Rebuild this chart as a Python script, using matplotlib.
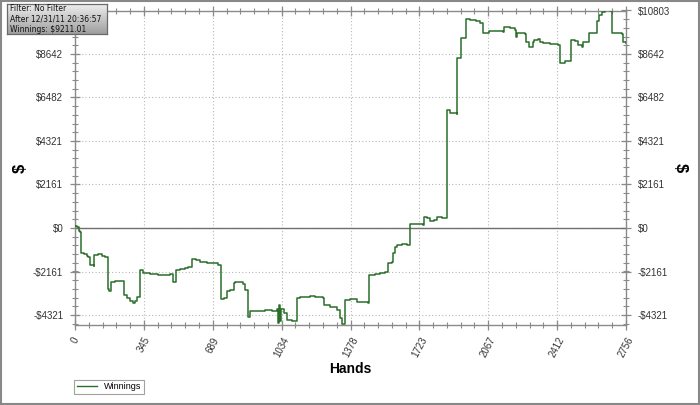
import numpy as np
import matplotlib
matplotlib.use("Agg")
import matplotlib.pyplot as plt
from matplotlib.ticker import FixedLocator, MultipleLocator
from matplotlib.patches import Rectangle
from matplotlib.lines import Line2D

# ---- data ----
hands = [0, 10, 18, 25, 30, 45, 58, 65, 75, 93, 95, 115, 135, 150, 164, 170, 180, 200, 220, 242,
         245, 260, 275, 292, 300, 309, 325, 340, 375, 415, 450, 475, 492, 505, 525, 550, 565, 584,
         605, 625, 660, 685, 715, 728, 745, 760, 775, 793, 800, 825, 840, 850, 867, 875, 915, 950,
         985, 1010, 1015, 1020, 1025, 1030, 1045, 1059, 1085, 1109, 1125, 1175, 1200, 1240, 1245,
         1275, 1309, 1325, 1334, 1350, 1375, 1410, 1440, 1465, 1472, 1500, 1525, 1550, 1565, 1585,
         1590, 1600, 1610, 1635, 1660, 1675, 1705, 1740, 1745, 1760, 1775, 1795, 1810, 1835, 1859,
         1862, 1875, 1909, 1911, 1929, 1954, 1976, 2006, 2026, 2039, 2071, 2106, 2141, 2146, 2176,
         2201, 2206, 2211, 2251, 2256, 2272, 2291, 2292, 2296, 2316, 2326, 2341, 2376, 2416, 2426,
         2451, 2476, 2479, 2501, 2516, 2536, 2539, 2561, 2572, 2601, 2612, 2622, 2634, 2651, 2676,
         2684, 2706, 2734, 2739, 2756]
winnings = [75, 25, -149, -199, -1242, -1291, -1391, -1440, -1838, -1863, -1341, -1291, -1366, -1440,
            -3030, -3114, -2667, -2608, -2633, -2657, -3328, -3477, -3626, -3740, -3626, -3412,
            -2086, -2260, -2285, -2334, -2359, -2285, -2667, -2086, -2012, -1987, -1937, -1555,
            -1614, -1664, -1714, -1763, -1838, -3502, -3477, -3129, -3080, -2732, -2667, -2707,
            -2757, -3080, -4406, -4123, -4098, -4073, -4098, -4048, -4719, -3825, -4619, -4023,
            -4222, -4570, -4644, -3492, -3427, -3402, -3452, -3477, -3825, -3924, -4073, -4470,
            -4790, -3576, -3551, -3651, -3700, -3725, -2334, -2285, -2235, -2161, -1738, -1689,
            -1242, -944, -844, -795, -844, 199, 174, 149, 561, 497, 348, 373, 522, 497, 546,
            5861, 5712, 5638, 8419, 9422, 10366, 10331, 10282, 10182, 9700, 9760, 9785, 9711,
            9969, 9909, 9810, 9487, 9661, 9611, 9254, 8976, 9090, 9254, 9338, 9363, 9239, 9174,
            9139, 9090, 8210, 8270, 8310, 9338, 9264, 9090, 9005, 9254, 9214, 9671, 9686, 10297,
            10580, 10744, 10803, 10778, 9700, 9686, 9636, 9254, 9211]

x_ticks = [0, 345, 689, 1034, 1378, 1723, 2067, 2412, 2756]
y_ticks = [-4321, -2161, 0, 2161, 4321, 6482, 8642, 10803]
y_labels = ["-$4321", "-$2161", "$0", "$2161", "$4321", "$6482", "$8642", "$10803"]
info_lines = ["Filter: No Filter", "After 12/31/11 20:36:57", "Winnings: $9211.01"]
series_name = "Winnings"

# ---- style ----
W, H = 700, 405
fig = plt.figure(figsize=(7, 4.05), dpi=100)
fig.patch.set_facecolor("white")
tick_font = "Liberation Sans"
grey = "#8a8a8a"
green = "#2a6e2a"

ax = fig.add_axes([75 / W, 1 - 325 / H, 551 / W, 314.5 / H])
ax.set_xlim(0, 2756)
ax.set_ylim(-4818, 10803)

ax.step(hands, winnings, where="post", color=green, lw=1.1, zorder=3)
ax.axhline(0, color="#707070", lw=1.0, zorder=2)

ax.xaxis.set_major_locator(FixedLocator(x_ticks))
ax.xaxis.set_minor_locator(MultipleLocator(2756 / 40))
ax.yaxis.set_major_locator(FixedLocator(y_ticks))
ax.yaxis.set_minor_locator(MultipleLocator(10803 / 25))
ax.set_yticklabels(y_labels)
ax.set_xticklabels([str(v) for v in x_ticks])

ax.grid(True, which="major", ls=(0, (1, 2)), color="#b8b8b8", lw=0.8, zorder=1)
for s in ax.spines.values():
    s.set_color(grey)
    s.set_linewidth(1.0)

ax.tick_params(which="both", direction="inout", colors=grey, top=True, right=True,
               labelright=True, labelleft=True)
ax.tick_params(which="major", length=7, width=0.9)
ax.tick_params(which="minor", length=5, width=0.8)
ax.tick_params(axis="y", labelsize=7, labelcolor="#333333", pad=5)
ax.tick_params(axis="x", labelsize=7, labelcolor="#333333", pad=4)
for lab in ax.get_yticklabels():
    lab.set_fontfamily(tick_font)
for lab in ax.get_xticklabels():
    lab.set_fontfamily(tick_font)
    lab.set_rotation(62)
    lab.set_ha("center")
    lab.set_va("top")
# top-left value label sits under the info box in the reference
ax.yaxis.get_major_ticks()[-1].label1.set_visible(False)

fig.text(350.5 / W, 1 - 369 / H, "Hands", fontsize=10, fontweight="bold", family=tick_font,
         ha="center", va="center")
fig.text(20 / W, 1 - 168 / H, "$", fontsize=12, fontweight="bold", family=tick_font,
         rotation=90, ha="center", va="center")
fig.text(680 / W, 1 - 168 / H, "$", fontsize=12, fontweight="bold", family=tick_font,
         rotation=270, ha="center", va="center")

# legend
leg = fig.legend(handles=[Line2D([], [], color=green, lw=1.0)], labels=[series_name],
                 loc="lower left", bbox_to_anchor=(74 / W, 1 - 394 / H), borderaxespad=0,
                 frameon=True, fancybox=False, borderpad=0.3, handlelength=2.3,
                 handletextpad=0.7, prop={"family": tick_font, "size": 6.5})
leg.get_frame().set_edgecolor(grey)
leg.get_frame().set_linewidth(0.8)

# info box with gradient
bx = fig.add_axes([7 / W, 1 - 34 / H, 100 / W, 30 / H], zorder=10)
grad = np.linspace(0.93, 0.62, 50).reshape(-1, 1)
grad = np.repeat(grad, 10, axis=1)
bx.imshow(grad, cmap="gray", vmin=0, vmax=1, aspect="auto", extent=(0, 1, 0, 1))
bx.set_xlim(0, 1)
bx.set_ylim(0, 1)
bx.set_xticks([])
bx.set_yticks([])
for s in bx.spines.values():
    s.set_color("#6a6a6a")
    s.set_linewidth(0.9)
for i, t in enumerate(info_lines):
    bx.text(0.025, 0.84 - i * 0.34, t, fontsize=5.5, family="DejaVu Sans", color="#111111",
            va="center", ha="left")

# outer border
fig.patches.append(Rectangle((0.001, 0.002), 0.997, 0.996, transform=fig.transFigure,
                             fill=False, edgecolor="#888888", lw=1.5))

fig.savefig("out.png", dpi=100)
